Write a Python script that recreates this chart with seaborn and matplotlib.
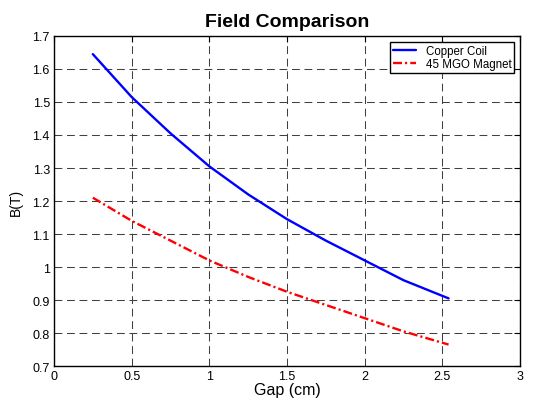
import matplotlib
matplotlib.use('Agg')
import matplotlib.pyplot as plt
import seaborn as sns
import pandas as pd

gap_cm = [0.25, 0.5, 0.75, 1.0, 1.25, 1.5, 1.75, 2.0, 2.25, 2.54]
copper_coil = [1.645, 1.515, 1.405, 1.305, 1.22, 1.145, 1.08, 1.02, 0.96, 0.905]
mgo_magnet = [1.21, 1.14, 1.08, 1.02, 0.97, 0.925, 0.885, 0.845, 0.805, 0.765]

df = pd.DataFrame({'Gap': gap_cm, 'Copper Coil': copper_coil, '45 MGO Magnet': mgo_magnet})

sns.set_style('white')
plt.rcParams['font.family'] = ['Liberation Sans', 'DejaVu Sans']
plt.rcParams['text.color'] = 'black'
plt.rcParams['axes.labelcolor'] = 'black'

fig = plt.figure(figsize=(5.4, 4.02), dpi=100)
ax = fig.add_axes([0.1, 0.087, 0.863, 0.821])

sns.lineplot(data=df, x='Gap', y='Copper Coil', ax=ax, color='#0000ff', linewidth=1.7, label='Copper Coil')
sns.lineplot(data=df, x='Gap', y='45 MGO Magnet', ax=ax, color='#ff0000', linewidth=1.7,
             linestyle=(0, (3.8, 1.3, 0.9, 1.3)), label='45 MGO Magnet')

ax.set_xlim(0, 3)
ax.set_ylim(0.7, 1.7)
ax.set_xticks([0, 0.5, 1, 1.5, 2, 2.5, 3])
ax.set_xticklabels(['0', '0.5', '1', '1.5', '2', '2.5', '3'])
ax.set_yticks([0.7, 0.8, 0.9, 1.0, 1.1, 1.2, 1.3, 1.4, 1.5, 1.6, 1.7])
ax.set_yticklabels(['0.7', '0.8', '0.9', '1', '1.1', '1.2', '1.3', '1.4', '1.5', '1.6', '1.7'])
ax.grid(True, color='0.25', linestyle=(0, (7.5, 4.5)), linewidth=0.75)
ax.tick_params(direction='in', top=True, right=True, length=4, labelsize=9, colors='black', pad=3)
for s in ax.spines.values():
    s.set_color('black')
    s.set_linewidth(1)

ax.set_title('Field Comparison', fontsize=14, fontweight='bold', pad=7)
ax.set_xlabel('Gap (cm)', fontsize=11.5, labelpad=0)
ax.set_ylabel('B(T)', fontsize=10, labelpad=7)

leg = ax.legend(loc='upper right', fontsize=8.3, frameon=True, fancybox=False, edgecolor='black',
                framealpha=1, borderaxespad=0.5, handlelength=2.0, borderpad=0.25, labelspacing=0.15,
                handletextpad=0.8)
leg.get_frame().set_linewidth(1)

fig.savefig('out.png', dpi=100)
